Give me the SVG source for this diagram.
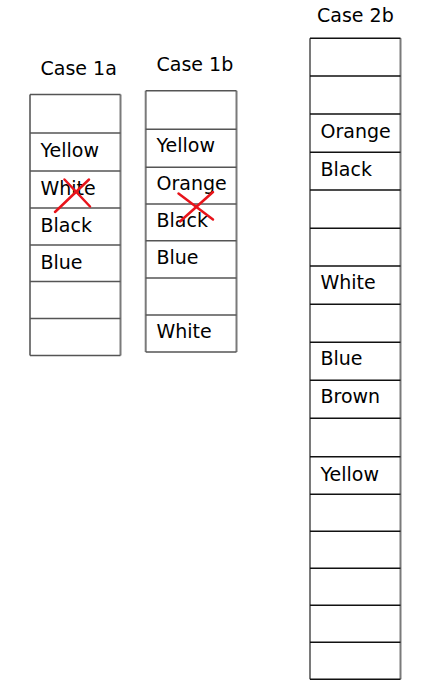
<svg xmlns="http://www.w3.org/2000/svg" width="438" height="696" viewBox="0 0 438 696">
<style>
  .t { font-family: "DejaVu Sans", Verdana, sans-serif; font-size: 19px; fill: #000; }
  .v { stroke: #7a7a7a; stroke-width: 2; fill: none; }
  .h { stroke: #555; stroke-width: 1.5; fill: none; }
  .hb { stroke: #111; stroke-width: 1.5; fill: none; }
  .x { stroke: #e8141b; stroke-width: 2.5; fill: none; stroke-linecap: round; }
</style>
<rect width="438" height="696" fill="#fff"/>

<g id="case1a">
  <text class="t" x="40.5" y="75">Case 1a</text>
  <path class="v" d="M30,94.5 V355.5 M120.5,94.5 V355.5"/>
  <path class="h" d="M30,94.5 H120.5 M30,133 H120.5 M30,171 H120.5 M30,208 H120.5 M30,245 H120.5 M30,281.5 H120.5 M30,318.5 H120.5 M30,355.5 H120.5"/>
  <text class="t" x="40.5" y="157">Yellow</text>
  <text class="t" x="40.5" y="194.5">White</text>
  <text class="t" x="40.5" y="231.5">Black</text>
  <text class="t" x="40.5" y="268.5">Blue</text>
  <path class="x" d="M55,212 L89,179.5 M64.5,179.5 L90,206.5"/>
</g>

<g id="case1b">
  <text class="t" x="156.5" y="70.5">Case 1b</text>
  <path class="v" d="M145.7,90.7 V352 M236.5,90.7 V352"/>
  <path class="h" d="M145.7,90.7 H236.5 M145.7,129.3 H236.5 M145.7,167.3 H236.5 M145.7,204 H236.5 M145.7,240.7 H236.5 M145.7,278 H236.5 M145.7,315 H236.5 M145.7,352 H236.5"/>
  <text class="t" x="156.5" y="152">Yellow</text>
  <text class="t" x="156.5" y="190">Orange</text>
  <text class="t" x="156.5" y="227.3">Black</text>
  <text class="t" x="156.5" y="263.5">Blue</text>
  <text class="t" x="156.5" y="338.3">White</text>
  <path class="x" d="M178.5,193.5 L213,219.5 M180,221.5 L213,192"/>
</g>

<g id="case2b">
  <text class="t" x="317" y="21.5">Case 2b</text>
  <path class="v" d="M310,38.3 V679.3 M400.5,38.3 V679.3"/>
  <path class="hb" d="M310,38.3 H400.5 M310,76 H400.5 M310,114 H400.5 M310,152.3 H400.5 M310,190 H400.5 M310,228.3 H400.5 M310,266 H400.5 M310,304.3 H400.5 M310,342.3 H400.5 M310,380.3 H400.5 M310,418.3 H400.5 M310,456.7 H400.5 M310,494.3 H400.5 M310,531.3 H400.5 M310,568.3 H400.5 M310,605.3 H400.5 M310,642.3 H400.5 M310,679.3 H400.5"/>
  <text class="t" x="320.5" y="138.3">Orange</text>
  <text class="t" x="320.5" y="176">Black</text>
  <text class="t" x="320.5" y="289.3">White</text>
  <text class="t" x="320.5" y="365">Blue</text>
  <text class="t" x="320.5" y="403.3">Brown</text>
  <text class="t" x="320.5" y="480.7">Yellow</text>
</g>
</svg>
